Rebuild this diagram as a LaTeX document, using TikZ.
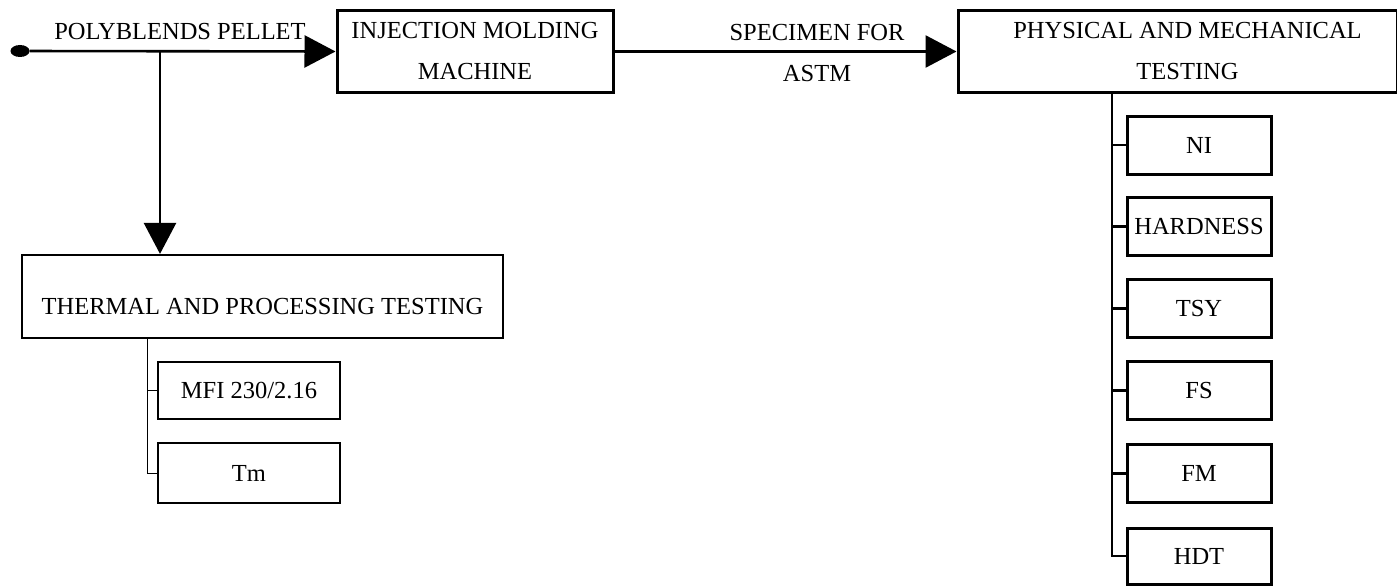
\documentclass[tikz,border=0pt]{standalone}
\usepackage{fontspec}
\setmainfont{Liberation Serif}
\usetikzlibrary{arrows.meta,shapes.geometric}
\begin{document}
\begin{tikzpicture}[x=1pt,y=-1pt,
  txt/.style={font=\fontsize{24.5}{41}\selectfont, align=center, inner sep=0pt},
  box/.style={txt, draw, line width=3pt},
  sbox/.style={box, minimum width=144pt, minimum height=58pt},
  lbox/.style={box, line width=2pt, minimum width=182pt},
  conn/.style={line width=2.6pt},
  thinline/.style={line width=1pt},
  tip/.style={-{Triangle[length=31pt,width=32pt]}}]
\useasboundingbox (0,0) rectangle (1397,586);
% main row
\node[fill, ellipse, minimum width=19pt, minimum height=12pt, inner sep=0pt] (dot) at (20,51) {};
\node[box, minimum width=276pt, minimum height=81pt] (inj) at (475,51.5) {INJECTION MOLDING\\MACHINE};
\node[box, minimum width=439pt, minimum height=81pt] (phys) at (1177.5,51.5) {\hspace*{20pt}PHYSICAL AND MECHANICAL\\\hspace*{20pt}TESTING};
\node[txt] (pel) at (180,32) {POLYBLENDS PELLET};
\node[txt] (spec) at (817,53) {SPECIMEN FOR\\ASTM};
\coordinate (br) at (160,51);
\draw[conn, tip] (dot) -- (inj.west);
\draw[conn, tip] (inj.east) -- (phys.west);
% thermal branch
\node[box, line width=2.2pt, minimum width=481pt, minimum height=83pt, text height=36pt, text depth=0pt] (therm) at (262.5,296.5) {THERMAL AND PROCESSING TESTING};
\draw[conn, tip] (br) -- (br |- therm.north);
\node[lbox, minimum height=57pt] (mfi) at (249,390.5) {MFI 230/2.16};
\node[lbox, minimum height=60pt] (tm) at (249,473) {Tm};
\coordinate (lt) at (147,0);
\draw[thinline] (lt |- therm.south) |- (tm.west);
\draw[thinline] (lt |- mfi.west) -- (mfi.west);
% physical branch
\node[sbox] (ni) at (1199,145) {NI};
\node[sbox] (hard) at (1199,226.5) {HARDNESS};
\node[sbox] (tsy) at (1199,308.5) {TSY};
\node[sbox] (fs) at (1199,390.5) {FS};
\node[sbox] (fm) at (1199,473.5) {FM};
\node[sbox, minimum height=56pt] (hdt) at (1199,556) {HDT};
\coordinate (rt) at (1112,0);
\draw[conn] (rt |- phys.south) |- (hdt.west);
\foreach \b in {ni,hard,tsy,fs,fm}
  \draw[conn] (rt |- \b.west) -- (\b.west);
\end{tikzpicture}
\end{document}
